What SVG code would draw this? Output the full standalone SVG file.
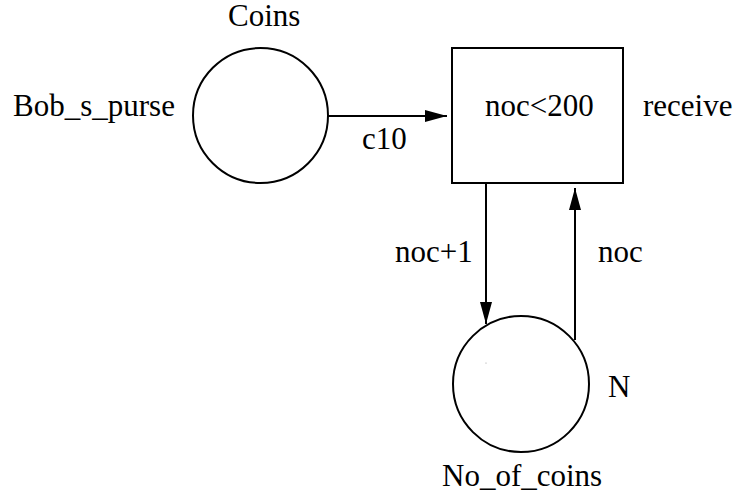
<svg xmlns="http://www.w3.org/2000/svg" width="736" height="497" viewBox="0 0 736 497">
  <style>
    .shape { fill: none; stroke: #000; stroke-width: 2; }
    .edge { fill: none; stroke: #000; stroke-width: 2; }
    text { font-family: "Liberation Serif", "Times New Roman", serif; font-size: 31px; fill: #000; }
  </style>
  <defs>
    <marker id="arrow" markerUnits="userSpaceOnUse" markerWidth="22" markerHeight="12" refX="22" refY="6" orient="auto">
      <path d="M0,0 L22,6 L0,12 Z" fill="#000"/>
    </marker>
  </defs>
  <rect width="736" height="497" fill="#fff"/>

  <!-- place Bob_s_purse -->
  <g id="bob_s_purse">
    <circle class="shape" cx="260.5" cy="115.5" r="67.5"/>
    <text x="228" y="26">Coins</text>
    <text x="13" y="116">Bob_s_purse</text>
  </g>

  <!-- transition receive -->
  <g id="receive">
    <rect class="shape" x="452" y="48" width="171" height="135"/>
    <text x="485" y="116">noc&lt;200</text>
    <text x="643" y="116">receive</text>
  </g>

  <!-- place No_of_coins -->
  <g id="no_of_coins">
    <circle class="shape" cx="521" cy="384" r="68"/>
    <circle cx="486" cy="363" r="0.6" fill="#999"/>
    <text x="608" y="397">N</text>
    <text x="442" y="486">No_of_coins</text>
  </g>

  <!-- arcs -->
  <g id="connectors">
    <line class="edge" x1="328" y1="116" x2="447" y2="116" marker-end="url(#arrow)"/>
    <text x="362" y="149">c10</text>
    <line class="edge" x1="486" y1="183" x2="486" y2="324" marker-end="url(#arrow)"/>
    <text x="395" y="262">noc+1</text>
    <line class="edge" x1="575" y1="340" x2="575" y2="188" marker-end="url(#arrow)"/>
    <text x="598" y="262">noc</text>
  </g>
</svg>
